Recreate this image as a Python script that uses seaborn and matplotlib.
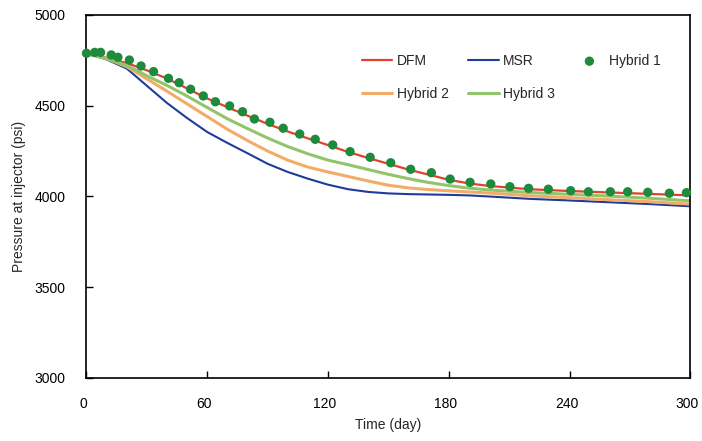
import matplotlib
matplotlib.use("Agg")

import matplotlib.pyplot as plt
import pandas as pd
import seaborn as sns
from matplotlib.transforms import ScaledTranslation

# simulation output
days = [0, 10, 20, 30, 40, 50, 60, 70, 80, 90, 100, 110, 120, 130, 140,
        150, 160, 170, 180, 190, 200, 220, 240, 260, 280, 300]
dfm = [4790, 4765, 4735, 4695, 4650, 4595, 4540, 4492, 4445, 4400, 4358, 4320,
       4283, 4245, 4212, 4180, 4148, 4120, 4092, 4072, 4058, 4040, 4030, 4022,
       4014, 4006]
msr = [4790, 4755, 4705, 4610, 4515, 4432, 4355, 4295, 4238, 4180, 4135, 4098,
       4065, 4040, 4025, 4017, 4013, 4011, 4009, 4006, 4000, 3987, 3978, 3968,
       3958, 3946]
hybrid2 = [4790, 4760, 4715, 4648, 4580, 4510, 4440, 4370, 4308, 4250, 4200,
           4162, 4135, 4110, 4085, 4062, 4047, 4038, 4031, 4025, 4019, 4004,
           3993, 3982, 3971, 3958]
hybrid3 = [4785, 4760, 4722, 4665, 4612, 4553, 4490, 4428, 4374, 4322, 4275,
           4235, 4200, 4175, 4148, 4122, 4098, 4077, 4060, 4046, 4036, 4022,
           4012, 4002, 3990, 3976]

h1_days = [0, 4.1, 7.0, 12.3, 15.6, 21.3, 27.1, 33.3, 40.7, 46.0, 51.7, 58.0,
           64.0, 71.1, 77.5, 83.4, 91.1, 97.7, 105.9, 113.6, 122.3, 130.9,
           140.9, 151.1, 161.0, 171.3, 180.6, 190.5, 200.8, 210.3, 219.6,
           229.4, 240.5, 249.3, 260.2, 268.8, 278.8, 289.5, 298.0]
h1_psi = [4789, 4794, 4794, 4780, 4767, 4752, 4719, 4688, 4651, 4627, 4591,
          4554, 4522, 4499, 4467, 4427, 4409, 4376, 4344, 4315, 4284, 4247,
          4216, 4186, 4150, 4131, 4096, 4078, 4069, 4054, 4045, 4040, 4032,
          4026, 4026, 4026, 4023, 4018, 4021]

x_ticks = [0, 60, 120, 180, 240, 300]
y_ticks = [3000, 3500, 4000, 4500, 5000]

series = {"DFM": dfm, "MSR": msr, "Hybrid 2": hybrid2, "Hybrid 3": hybrid3}
colors = {"DFM": "#e2412c", "MSR": "#1f3c9c", "Hybrid 2": "#f2ac68",
          "Hybrid 3": "#92c46a"}
widths = {"DFM": 1.6, "MSR": 1.5, "Hybrid 2": 2.2, "Hybrid 3": 2.2}

sns.set_style("ticks")
plt.rcParams["font.family"] = ["Liberation Sans", "DejaVu Sans"]

fig = plt.figure(figsize=(7.02, 4.41), dpi=100)
ax = fig.add_axes([0.1232, 0.1429, 0.8604, 0.8231])

handles = {}
for name, vals in series.items():
    df = pd.DataFrame({"day": days, "psi": vals})
    sns.lineplot(data=df, x="day", y="psi", ax=ax, color=colors[name],
                 linewidth=widths[name], label=name)
    handles[name] = ax.get_lines()[-1]

h1 = pd.DataFrame({"day": h1_days, "psi": h1_psi})
sns.scatterplot(data=h1, x="day", y="psi", ax=ax, color="#1e8a3c", s=45,
                edgecolor="none", label="Hybrid 1", zorder=5, clip_on=False)
handles["Hybrid 1"] = ax.collections[-1]

ax.set_xlim(0, 300)
ax.set_ylim(3000, 5000)
ax.set_xticks(x_ticks)
ax.set_yticks(y_ticks)
ax.tick_params(direction="in", length=5, width=1, labelsize=10, colors="black")
ax.tick_params(axis="y", pad=15)
ax.tick_params(axis="x", pad=14)
# labels sit a few pixels left of their ticks in the original
shift = ScaledTranslation(-3 / 100, 0, fig.dpi_scale_trans)
for lab in ax.get_xticklabels():
    lab.set_transform(lab.get_transform() + shift)
for sp in ax.spines.values():
    sp.set_visible(True)
    sp.set_color("black")
    sp.set_linewidth(1.2)

ax.set_xlabel("Time (day)", fontsize=10, labelpad=5)
ax.set_ylabel("Pressure at injector (psi)", fontsize=10, labelpad=6)

order = ["DFM", "Hybrid 2", "MSR", "Hybrid 3", "Hybrid 1"]
ax.legend([handles[k] for k in order], order, ncol=3, frameon=False,
          loc="upper left", bbox_to_anchor=(0.456, 0.893), borderaxespad=0,
          borderpad=0, handlelength=2.2, handletextpad=0.3,
          columnspacing=1.4, labelspacing=1.35, fontsize=10)

plt.savefig("out.png", dpi=100)
plt.close()
